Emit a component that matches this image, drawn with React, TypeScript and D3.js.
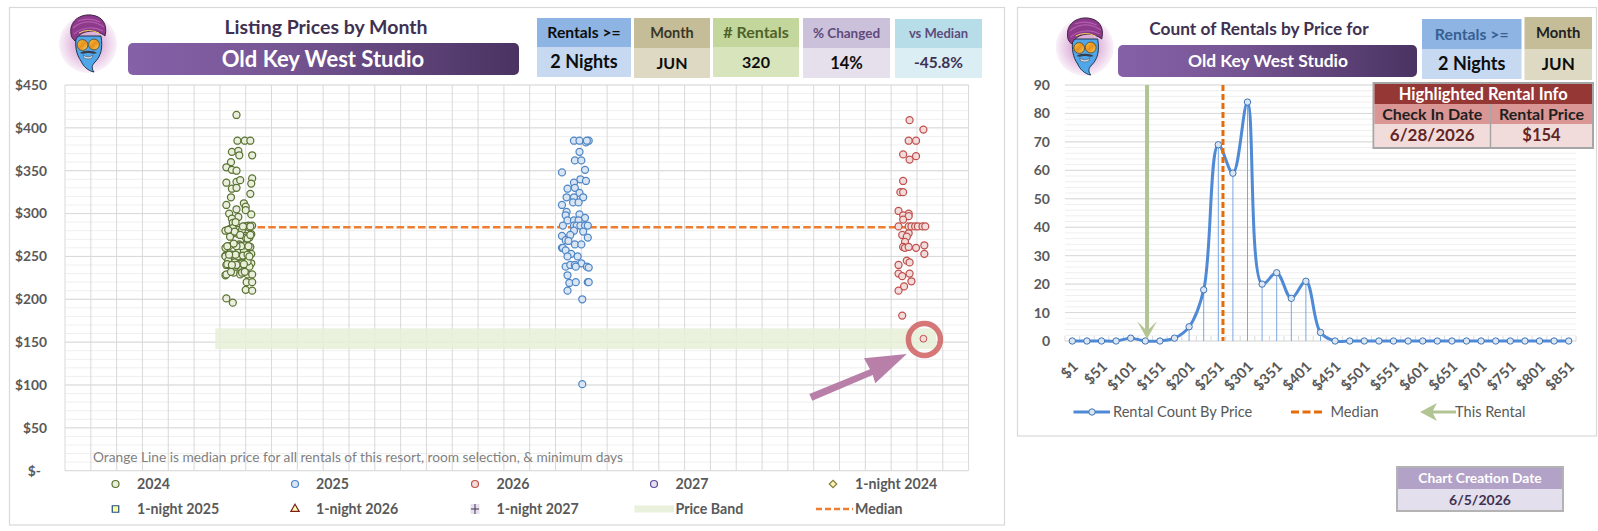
import { axisBottom, axisLeft, curveCatmullRom, line, range, scaleBand, scaleLinear, scaleTime, select, symbol, symbolDiamond2, symbolSquare, symbolTriangle, timeDay } from "d3";
import { useEffect, useRef } from "react";

const FONT = "Lato, 'Open Sans', sans-serif";

// [day of June, listing price]
const rentals2024: [number, number][] = [
  [13, 415], [14, 385], [22, 385], [28, 385], [8, 372], [15, 373], [16, 368], [30, 368], [7, 360], [2, 354],
  [8, 351], [13, 350], [2, 336], [13, 337], [17, 339], [30, 341], [29, 335], [8, 329], [13, 330], [28, 323],
  [7, 319], [2, 310], [21, 312], [23, 308], [13, 305], [5, 300], [23, 304], [29, 299], [15, 296], [8, 294],
  [9, 289], [22, 285], [26, 286], [30, 286], [14, 284], [6, 282], [1, 280], [15, 281], [9, 277], [15, 276],
  [29, 276], [22, 274], [27, 272], [6, 273], [23, 272], [5, 262], [1, 260], [16, 264], [23, 264], [28, 261],
  [16, 260], [15, 255], [21, 257], [29, 253], [1, 251], [3, 251], [8, 252], [16, 250], [22, 250], [2, 240],
  [10, 241], [16, 241], [18, 238], [29, 242], [24, 240], [27, 238], [1, 228], [10, 231], [17, 229], [25, 229],
  [30, 229], [24, 220], [30, 220], [23, 211], [30, 210], [2, 201], [9, 196], [6, 252], [14, 250], [10, 238],
  [2, 229], [15, 238], [1, 250], [9, 283], [24, 285], [27, 284], [11, 243], [15, 263], [22, 263], [6, 240],
  [19, 242], [25, 244], [12, 252], [4, 245], [20, 251], [12, 238], [18, 262], [19, 281], [11, 279], [25, 271],
  [3, 241], [7, 232], [5, 252], [3, 262], [13, 262], [20, 285], [28, 275], [26, 262], [25, 252], [13, 240],
  [27, 250], [19, 231], [10, 265], [4, 281], [12, 290], [17, 275], [21, 241], [8, 240], [22, 232], [28, 285],
];
const rentals2025: [number, number][] = [
  [14, 385], [20, 385], [27, 383], [30, 385], [28, 385], [20, 372], [15, 362], [22, 362], [26, 351], [1, 348],
  [21, 340], [27, 338], [14, 336], [15, 330], [7, 329], [20, 324], [6, 319], [14, 319], [24, 319], [13, 313],
  [19, 313], [1, 310], [6, 302], [20, 299], [5, 298], [26, 295], [7, 292], [14, 292], [19, 292], [2, 286],
  [14, 286], [17, 286], [21, 286], [26, 286], [29, 286], [14, 280], [24, 279], [1, 274], [10, 275], [5, 269],
  [8, 268], [29, 272], [15, 264], [22, 264], [1, 260], [2, 260], [5, 257], [11, 253], [7, 250], [18, 250],
  [22, 242], [5, 238], [10, 240], [15, 240], [16, 238], [28, 238], [30, 237], [7, 228], [9, 219], [16, 220],
  [29, 220], [30, 220], [7, 210], [23, 200], [23, 101],
];
const rentals2026: [number, number][] = [
  [13, 409], [28, 398], [12, 385], [20, 385], [6, 369], [20, 367], [13, 363], [6, 338], [3, 325], [6, 325],
  [1, 303], [12, 300], [6, 298], [12, 297], [6, 293], [1, 285], [12, 285], [15, 285], [19, 285], [22, 285],
  [27, 285], [30, 285], [5, 275], [12, 277], [10, 273], [8, 267], [29, 263], [6, 261], [8, 260], [12, 261],
  [20, 260], [29, 253], [10, 245], [13, 243], [1, 240], [1, 230], [13, 230], [5, 227], [15, 221], [7, 215],
  [1, 210], [5, 181],
];
const highlightDay = 28;
const highlightPrice = 154;
const medianPrice = 284;
const bandLow = 142;
const bandHigh = 166;

const priceTicks = range(0, 451, 50);
const priceMinor = range(0, 451, 10);

const bins = range(0, 35).map((i) => `$${1 + i * 25}`);
const counts = [0, 0, 0, 0, 1, 0, 0, 1, 5, 18, 69, 59, 84, 20, 24, 15, 21, 3, 0, 0, 0, 0, 0, 0, 0, 0, 0, 0, 0, 0, 0, 0, 0, 0, 0];
const countTicks = range(0, 91, 10);
const countMinor = range(0, 91, 2);

const seriesStyles = [
  { data: rentals2024, year: 2024, stroke: "#5a7232", fill: "#e9efdc" },
  { data: rentals2025, year: 2025, stroke: "#4f86c6", fill: "#d9e5f3" },
  { data: rentals2026, year: 2026, stroke: "#c0504d", fill: "#f2dcdb" },
];

const start = new Date(2023, 11, 10);
const end = new Date(2026, 7, 16);
const x = scaleTime().domain([start, end]).range([65, 968.6]);
const y = scaleLinear().domain([0, 450]).range([470.7, 85]);
const gridDays = timeDay.range(start, new Date(2026, 7, 17), 28);

const xBin = scaleBand<string>().domain(bins).range([1065, 1576]);
const yCount = scaleLinear().domain([0, 90]).range([341, 85]);
// price position along the binned axis, used by the median and the arrow
const xPrice = scaleLinear().domain([13.5, 888.5]).range([1065, 1576]);
const binCenter = (b: string) => (xBin(b) ?? 0) + xBin.bandwidth() / 2;

const countLine = line<number>()
  .x((_, i) => binCenter(bins[i]))
  .y((d) => yCount(d))
  .curve(curveCatmullRom.alpha(0.5));

function Cell({ x, y, w, h, fill, text, color, size, weight = 700 }: any) {
  return (
    <g>
      <rect x={x} y={y} width={w} height={h} fill={fill} />
      <text x={x + w / 2} y={y + h / 2} dy="0.35em" textAnchor="middle" fill={color} fontSize={size} fontWeight={weight}>
        {text}
      </text>
    </g>
  );
}

function Genie({ cx, cy, id }: { cx: number; cy: number; id: string }) {
  return (
    <g transform={`translate(${cx},${cy})`}>
      <defs>
        <radialGradient id={id}>
          <stop offset="40%" stopColor="#dcaed8" />
          <stop offset="100%" stopColor="#faf2f9" />
        </radialGradient>
        <linearGradient id={`${id}-lens`} x1="0" y1="0" x2="1" y2="1">
          <stop offset="0%" stopColor="#f6c64a" />
          <stop offset="50%" stopColor="#e8901a" />
          <stop offset="100%" stopColor="#f7d36a" />
        </linearGradient>
      </defs>
      <circle r={29} fill={`url(#${id})`} />
      <path d="M-12,-8 L13,-8 C15,4 13,12 7,18 C4,21 3,24 6,28 C0,27 -5,22 -7,17 C-12,10 -13,2 -12,-8Z" fill="#4fa6e8" stroke="#1f3550" strokeWidth={1} />
      <path d="M-8,9 C-5,6 5,6 9,9 C5,10.5 3,9 0.5,9 C-2,9 -5,10.5 -8,9Z" fill="#3b3b4a" />
      <path d="M-5,11 Q0,15 5,11 L4,14 Q0,16 -4,14Z" fill="#e4e8ee" stroke="#3b3b4a" strokeWidth={0.5} />
      <path d="M-17,-10 C-19,-23 -8,-30 3,-29 C14,-28 20,-20 17,-8 C9,-15 -8,-15 -13,-3 C-15,-5 -17,-7 -17,-10Z" fill="#8e3a8c" stroke="#3d2440" strokeWidth={1} />
      <path d="M-15,-16 C-6,-24 6,-24 16,-17 M-10,-23 C-2,-26 6,-25 12,-22 M-14,-10 C-6,-17 6,-18 15,-13" fill="none" stroke="#b25cab" strokeWidth={1.2} />
      <path d="M-9,-11 Q0,-16 11,-11" fill="none" stroke="#f2d65c" strokeWidth={1} />
      <circle cx={-5.5} cy={1} r={5.4} fill={`url(#${id}-lens)`} stroke="#55452a" strokeWidth={0.8} />
      <circle cx={6} cy={0.5} r={5.4} fill={`url(#${id}-lens)`} stroke="#55452a" strokeWidth={0.8} />
    </g>
  );
}

function TitleBar({ x, y, w, h, id, size, textX }: any) {
  return (
    <g>
      <defs>
        <linearGradient id={id}>
          <stop offset="0%" stopColor="#8561a8" />
          <stop offset="35%" stopColor="#785796" />
          <stop offset="100%" stopColor="#4a3362" />
        </linearGradient>
      </defs>
      <rect x={x} y={y} width={w} height={h} rx={5} fill={`url(#${id})`} />
      <text x={textX} y={y + h / 2} dy="0.35em" textAnchor="middle" fill="#fff" fontSize={size} fontWeight={700}>
        Old Key West Studio
      </text>
    </g>
  );
}

function LeftAxis() {
  const ref = useRef<SVGGElement>(null);
  useEffect(() => {
    const g = select(ref.current!);
    g.call(axisLeft(y).tickValues(priceTicks).tickSize(0).tickPadding(18).tickFormat((d) => (+d === 0 ? "$-" : `$${d}`)) as any);
    g.select(".domain").remove();
    g.selectAll("text").attr("font-family", FONT).attr("font-size", 13.8).attr("font-weight", 700).attr("fill", "#595959");
    g.selectAll<SVGTextElement, number>("text").filter((d) => d === 0).attr("dx", -6);
  }, []);
  return <g ref={ref} transform="translate(65,0)" />;
}

function CountAxes() {
  const leftRef = useRef<SVGGElement>(null);
  const bottomRef = useRef<SVGGElement>(null);
  useEffect(() => {
    const l = select(leftRef.current!);
    l.call(axisLeft(yCount).tickValues(countTicks).tickSize(0).tickPadding(15) as any);
    l.select(".domain").remove();
    l.selectAll("text").attr("font-family", FONT).attr("font-size", 14).attr("font-weight", 700).attr("fill", "#595959");
    const b = select(bottomRef.current!);
    b.call(axisBottom(xBin).tickValues(bins.filter((_, i) => i % 2 === 0)).tickSize(0) as any);
    b.select(".domain").remove();
    b.selectAll("text")
      .attr("font-family", FONT)
      .attr("font-size", 14.5)
      .attr("font-weight", 700)
      .attr("fill", "#595959")
      .attr("text-anchor", "end")
      .attr("dy", "0.35em")
      .attr("y", 0)
      .attr("transform", "translate(3,23) rotate(-45)");
  }, []);
  return (
    <>
      <g ref={leftRef} transform="translate(1065,0)" />
      <g ref={bottomRef} transform="translate(0,341)" />
    </>
  );
}

const legendRows = [
  { at: 115.5, text: 137, row: 484, label: "2024", kind: "circle", stroke: "#5a7232", fill: "#e9efdc" },
  { at: 295, text: 316, row: 484, label: "2025", kind: "circle", stroke: "#4f86c6", fill: "#d9e5f3" },
  { at: 475, text: 496.5, row: 484, label: "2026", kind: "circle", stroke: "#c0504d", fill: "#f2dcdb" },
  { at: 654, text: 675.5, row: 484, label: "2027", kind: "circle", stroke: "#5f4b9b", fill: "#e6e0ec" },
  { at: 833, text: 855, row: 484, label: "1-night 2024", kind: "diamond", stroke: "#7f7f3f", fill: "#fff2b3" },
  { at: 115.5, text: 137, row: 509, label: "1-night 2025", kind: "square", stroke: "#1f4e8c", fill: "#ffff99" },
  { at: 295, text: 316, row: 509, label: "1-night 2026", kind: "triangle", stroke: "#7f1d1d", fill: "#ffffb3" },
  { at: 475, text: 496.5, row: 509, label: "1-night 2027", kind: "cross", stroke: "#403152", fill: "#e6e0ec" },
];
const symbolTypes: any = { diamond: symbolDiamond2, square: symbolSquare, triangle: symbolTriangle };
const symbolSizes: any = { diamond: 36, square: 42, triangle: 30 };

function LegendMark({ kind, stroke, fill, at, row }: any) {
  if (kind === "circle") return <circle cx={at} cy={row} r={3.5} fill={fill} stroke={stroke} strokeWidth={1.2} />;
  if (kind === "cross") {
    return (
      <g>
        <rect x={at - 4.5} y={row - 5} width={9} height={10} fill={fill} />
        <path d={`M${at - 4},${row} H${at + 4} M${at},${row - 5} V${row + 5}`} stroke={stroke} strokeWidth={1} />
      </g>
    );
  }
  return <path transform={`translate(${at},${row})`} d={symbol(symbolTypes[kind], symbolSizes[kind])() ?? ""} fill={fill} stroke={stroke} strokeWidth={1.2} />;
}

export default function App() {
  const xHi = x(new Date(2026, 5, highlightDay));
  const yHi = y(highlightPrice);
  const xMedian = xPrice(medianPrice);
  const xRental = xPrice(highlightPrice);
  const bandStart = x(new Date(2024, 4, 21));
  const bandEnd = x(new Date(2026, 6, 12));
  return (
    <svg width={1598} height={531} style={{ position: "absolute", left: 0, top: 0, display: "block" }} fontFamily={FONT}>
      <rect width={1598} height={531} fill="#fff" />
      <rect x={9.5} y={7.5} width={995} height={517.5} fill="#fff" stroke="#d9d9d9" strokeWidth={1.2} />

      {/* left chart */}
      {priceMinor.map((p) => (
        <line key={p} x1={65} x2={968.6} y1={y(p)} y2={y(p)} stroke="#efefef" />
      ))}
      {priceTicks.map((p) => (
        <line key={p} x1={65} x2={968.6} y1={y(p)} y2={y(p)} stroke="#d9d9d9" />
      ))}
      {gridDays.map((d) => (
        <line key={+d} x1={x(d)} x2={x(d)} y1={85} y2={470.7} stroke="#d9d9d9" />
      ))}
      <LeftAxis />
      <rect x={bandStart} width={bandEnd - bandStart} y={y(bandHigh)} height={y(bandLow) - y(bandHigh)} fill="#e6eed6" fillOpacity={0.85} />
      <line x1={x(new Date(2024, 5, 1))} x2={x(new Date(2026, 5, 9))} y1={y(medianPrice)} y2={y(medianPrice)} stroke="#ed7d31" strokeWidth={2.4} strokeDasharray="7.5 3.2" />
      {seriesStyles.map((s) =>
        s.data.map(([day, price], i) => (
          <circle key={`${s.year}-${i}`} cx={x(new Date(s.year, 5, day))} cy={y(price)} r={3.5} fill={s.fill} stroke={s.stroke} strokeWidth={1.25} />
        ))
      )}
      <circle cx={xHi} cy={yHi} r={3.4} fill="#f2dcdb" stroke="#c0504d" strokeWidth={1} />
      <circle cx={xHi + 1} cy={yHi + 0.7} r={16} fill="none" stroke="#cf5f60" strokeOpacity={0.85} strokeWidth={5.5} />
      <path d="M809.3,394 L870,369.3 L864,358.3 L906.7,354 L875.3,383.3 L872.7,375 L812.3,400.7Z" fill="#b87fa9" />
      <text x={93} y={457} dy="0.35em" fontSize={14} fill="#7f7f7f" textLength={530} lengthAdjust="spacingAndGlyphs">
        Orange Line is median price for all rentals of this resort, room selection, &amp; minimum days
      </text>

      {legendRows.map((r) => (
        <g key={r.label}>
          <LegendMark {...r} />
          <text x={r.text} y={r.row} dy="0.35em" fontSize={14.2} fontWeight={700} fill="#595959">
            {r.label}
          </text>
        </g>
      ))}
      <rect x={634.5} y={505.5} width={39.5} height={7} fill="#e9f0dc" />
      <text x={675.5} y={509} dy="0.35em" fontSize={14.2} fontWeight={700} fill="#595959">Price Band</text>
      <line x1={816} x2={853} y1={509} y2={509} stroke="#ed7d31" strokeWidth={2.4} strokeDasharray="6 3" />
      <text x={855} y={509} dy="0.35em" fontSize={14.2} fontWeight={700} fill="#595959">Median</text>

      <Genie cx={88} cy={44} id="halo1" />
      <text x={326} y={27} dy="0.35em" textAnchor="middle" fontSize={19.5} fontWeight={700} fill="#3f3151">Listing Prices by Month</text>
      <TitleBar x={128} y={43} w={391} h={32} id="bar1" size={22} textX={323} />

      <Cell x={537} y={18} w={94} h={29} fill="#8eb4e3" text="Rentals >=" color="#0d0d0d" size={15.7} />
      <Cell x={537} y={47} w={94} h={30} fill="#c6d9f1" text="2 Nights" color="#0d0d0d" size={18} />
      <Cell x={634} y={18} w={76} h={30} fill="#c4bd97" text="Month" color="#3a3626" size={14.5} />
      <Cell x={634} y={48} w={76} h={30} fill="#ddd9c3" text="JUN" color="#0d0d0d" size={16} />
      <Cell x={713} y={18} w={86} h={29} fill="#c3d69b" text="# Rentals" color="#4f6228" size={16} />
      <Cell x={713} y={47} w={86} h={30} fill="#d8e4bc" text="320" color="#0d0d0d" size={16} />
      <Cell x={803} y={18} w={87} h={30} fill="#ccc1da" text="% Changed" color="#604a7b" size={13.5} />
      <Cell x={803} y={48} w={87} h={30} fill="#e6e0ec" text="14%" color="#0d0d0d" size={16.5} />
      <Cell x={895} y={19} w={87} h={29} fill="#b7dee8" text="vs Median" color="#604a7b" size={13} />
      <Cell x={895} y={48} w={87} h={30} fill="#dbeef4" text="-45.8%" color="#403152" size={15.5} />

      {/* right chart */}
      <rect x={1017.5} y={7.5} width={579} height={428.5} fill="#fff" stroke="#d9d9d9" strokeWidth={1.2} />
      {countMinor.map((c) => (
        <line key={c} x1={1065} x2={1576} y1={yCount(c)} y2={yCount(c)} stroke="#efefef" />
      ))}
      {countTicks.map((c) => (
        <line key={c} x1={1065} x2={1576} y1={yCount(c)} y2={yCount(c)} stroke="#d9d9d9" />
      ))}
      {bins.map((b) => (
        <line key={b} x1={xBin(b)} x2={xBin(b)} y1={336} y2={341} stroke="#d9d9d9" />
      ))}
      <line x1={1576} x2={1576} y1={336} y2={341} stroke="#d9d9d9" />
      <CountAxes />
      {bins.map((b, i) => (
        <line key={b} x1={binCenter(b)} x2={binCenter(b)} y1={yCount(counts[i])} y2={341} stroke="#7aa7e0" strokeWidth={1} />
      ))}
      <path d={countLine(counts) ?? ""} fill="none" stroke="#4f8ad6" strokeWidth={3} />
      {bins.map((b, i) => (
        <circle key={b} cx={binCenter(b)} cy={yCount(counts[i])} r={3.2} fill="#dce6f2" stroke="#3f74b5" strokeWidth={1} />
      ))}
      <line x1={xMedian} x2={xMedian} y1={85} y2={341} stroke="#e46c0a" strokeWidth={3} strokeDasharray="6 3" />
      <path d={`M${xRental - 2},85 H${xRental + 2} V329 L${xRental + 10},321 L${xRental},339 L${xRental - 10},321 L${xRental - 2},329Z`} fill="#b3c494" />

      <Genie cx={1084.7} cy={47} id="halo2" />
      <text x={1259} y={29} dy="0.35em" textAnchor="middle" fontSize={17.3} fontWeight={700} fill="#3f3151">Count of Rentals by Price for</text>
      <TitleBar x={1118} y={45} w={299} h={32} id="bar2" size={17.4} textX={1268} />
      <Cell x={1422} y={19} w={99.5} h={30} fill="#8eb4e3" text="Rentals >=" color="#376092" size={15.8} />
      <Cell x={1422} y={49} w={99.5} h={30} fill="#c6d9f1" text="2 Nights" color="#0d0d0d" size={18} />
      <Cell x={1524.5} y={17} w={67.5} h={32} fill="#c4bd97" text="Month" color="#1f1f1f" size={14.8} />
      <Cell x={1524.5} y={49} w={67.5} h={31} fill="#ddd9c3" text="JUN" color="#0d0d0d" size={17} />

      <rect x={1373.5} y={83} width={219.5} height={65} fill="#f2dcdb" stroke="#a6a6a6" strokeWidth={2} />
      <Cell x={1374.5} y={84} w={217.5} h={20} fill="#953735" text="Highlighted Rental Info" color="#fff" size={16.5} />
      <Cell x={1374.5} y={104} w={115.5} h={20} fill="#d99694" text="Check In Date" color="#1f1f1f" size={16} />
      <Cell x={1491} y={104} w={101} h={20} fill="#d99694" text="Rental Price" color="#1f1f1f" size={16} />
      <Cell x={1374.5} y={124} w={115.5} h={23} fill="#f2dcdb" text="6/28/2026" color="#632523" size={17} />
      <Cell x={1491} y={124} w={101} h={23} fill="#f2dcdb" text={`$${highlightPrice}`} color="#632523" size={16.5} />
      <line x1={1490.5} x2={1490.5} y1={104} y2={147} stroke="#a6a6a6" strokeWidth={1.5} />

      <line x1={1073.5} x2={1110} y1={412} y2={412} stroke="#4f8ad6" strokeWidth={3} />
      <circle cx={1092} cy={412} r={3.2} fill="#dce6f2" stroke="#3f74b5" />
      <text x={1113} y={412} dy="0.35em" fontSize={14.6} fill="#595959">Rental Count By Price</text>
      <line x1={1291} x2={1325} y1={412} y2={412} stroke="#e46c0a" strokeWidth={3} strokeDasharray="8 3.5" />
      <text x={1330.5} y={412} dy="0.35em" fontSize={14.6} fill="#595959">Median</text>
      <path d="M1420,412 L1437,403 L1433,410.5 H1456 V413.5 H1433 L1437,421Z" fill="#b3c494" />
      <text x={1455} y={412} dy="0.35em" fontSize={14.6} fill="#595959">This Rental</text>

      <rect x={1397} y={467} width={166} height={44} fill="#e4dfec" stroke="#b3b3b3" strokeWidth={2} />
      <Cell x={1398} y={468} w={164} h={21} fill="#b2a2c7" text="Chart Creation Date" color="#fff" size={13.8} />
      <text x={1480} y={500} dy="0.35em" textAnchor="middle" fontSize={14} fontWeight={700} fill="#3f3151">6/5/2026</text>
    </svg>
  );
}
